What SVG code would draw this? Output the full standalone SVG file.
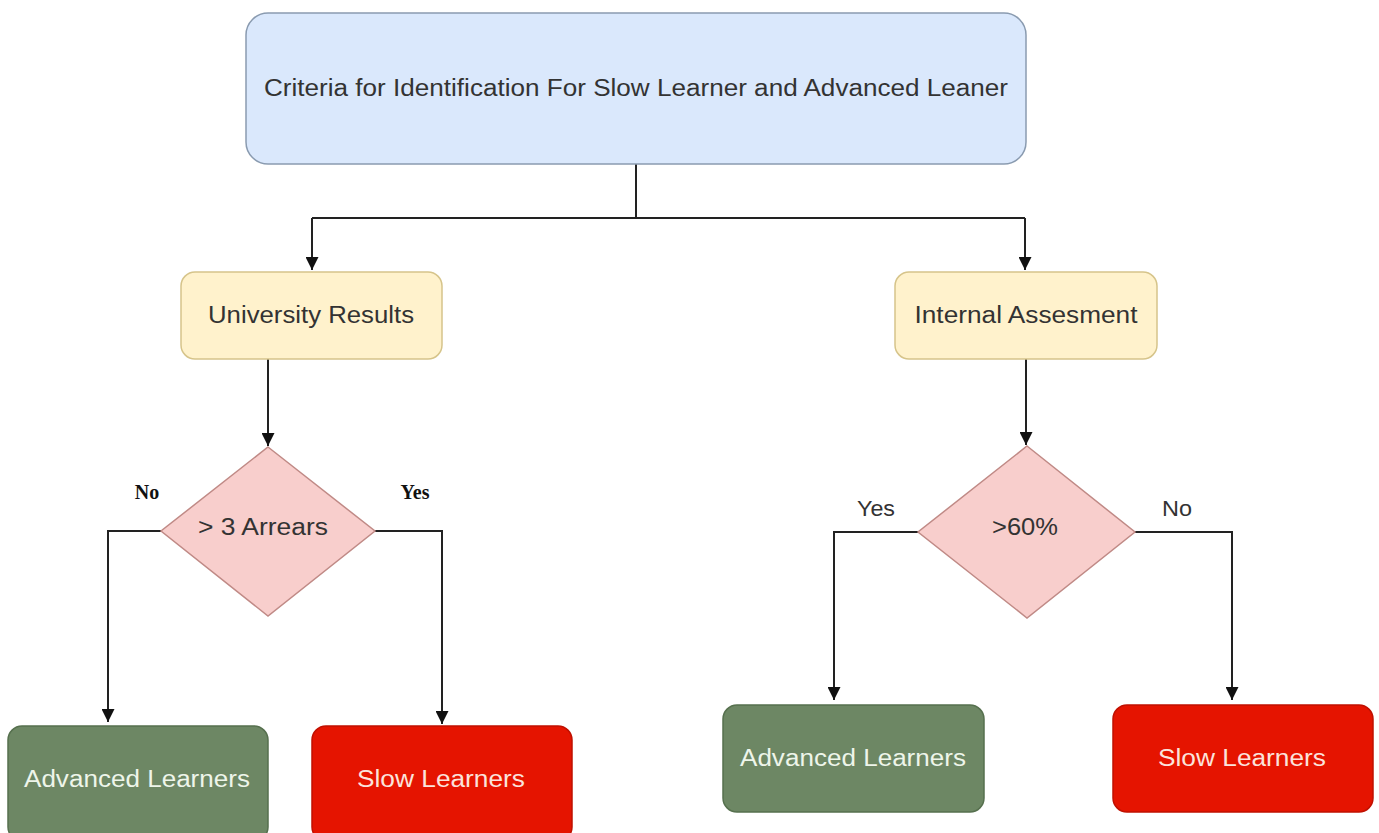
<svg xmlns="http://www.w3.org/2000/svg" width="1379" height="833" viewBox="0 0 1379 833">
<defs>
<marker id="ah" viewBox="0 0 10 10" refX="10" refY="5" markerWidth="6.5" markerHeight="6.5" orient="auto" markerUnits="strokeWidth">
<path d="M0,0 L10,5 L0,10 z" fill="#111"/>
</marker>
</defs>
<style>
.t{font-family:"Liberation Sans",Arial,sans-serif;text-anchor:middle;dominant-baseline:central}
.blue{fill:#dae8fc;stroke:#8a9bb0;stroke-width:1.5}
.yel{fill:#fff2cc;stroke:#d6c48a;stroke-width:1.5}
.dia{fill:#f8cecc;stroke:#c08a86;stroke-width:1.5}
.adv{fill:#6d8764;stroke:#56704e;stroke-width:1.5}
.slow{fill:#e51400;stroke:#c01000;stroke-width:1.5}
.dark{fill:#333}
.lbl{font-family:"Liberation Serif","Times New Roman",serif;font-weight:bold;font-size:20px;fill:#111;text-anchor:middle;dominant-baseline:central}
.c{fill:none;stroke:#222;stroke-width:2}
</style>
<rect width="1379" height="833" fill="#ffffff"/>
<g id="connectors">
<polyline class="c" points="636,164 636,218"/>
<polyline class="c" points="312,218 1025,218"/>
<polyline class="c" points="312,218 312,270" marker-end="url(#ah)"/>
<polyline class="c" points="1025,218 1025,270" marker-end="url(#ah)"/>
<polyline class="c" points="268,359 268,446" marker-end="url(#ah)"/>
<polyline class="c" points="1026,359 1026,445" marker-end="url(#ah)"/>
<polyline class="c" points="161,531 108,531 108,722" marker-end="url(#ah)"/>
<polyline class="c" points="375,531 442,531 442,724" marker-end="url(#ah)"/>
<polyline class="c" points="918,532 834,532 834,700" marker-end="url(#ah)"/>
<polyline class="c" points="1135,532 1232,532 1232,700" marker-end="url(#ah)"/>
</g>
<g id="node-criteria">
<rect class="blue" x="246" y="13" width="780" height="151" rx="22"/>
<text class="t dark" x="636" y="88" font-size="23" textLength="744" lengthAdjust="spacingAndGlyphs">Criteria for Identification For Slow Learner and Advanced Leaner</text>
</g>
<g id="node-university">
<rect class="yel" x="181" y="272" width="261" height="87" rx="14"/>
<text class="t dark" x="311" y="315" font-size="23" textLength="206" lengthAdjust="spacingAndGlyphs">University Results</text>
</g>
<g id="node-internal">
<rect class="yel" x="895" y="272" width="262" height="87" rx="14"/>
<text class="t dark" x="1026" y="315" font-size="23" textLength="223" lengthAdjust="spacingAndGlyphs">Internal Assesment</text>
</g>
<g id="node-arrears">
<polygon class="dia" points="268,447 375,531 268,616 161,531"/>
<text class="t dark" x="263" y="527" font-size="23" textLength="130" lengthAdjust="spacingAndGlyphs">&gt; 3 Arrears</text>
<text class="lbl" x="147" y="492">No</text>
<text class="lbl" x="415" y="492">Yes</text>
</g>
<g id="node-sixty">
<polygon class="dia" points="1027,446 1135,532 1027,618 918,532"/>
<text class="t dark" x="1025" y="527" font-size="23" textLength="66" lengthAdjust="spacingAndGlyphs">&gt;60%</text>
<text class="t dark" x="876" y="508" font-size="22" textLength="38" lengthAdjust="spacingAndGlyphs">Yes</text>
<text class="t dark" x="1177" y="508" font-size="22" textLength="30" lengthAdjust="spacingAndGlyphs">No</text>
</g>
<g id="node-adv-left">
<rect class="adv" x="8" y="726" width="260" height="115" rx="14"/>
<text class="t" x="137" y="779" font-size="23" fill="#eef5ea" textLength="226" lengthAdjust="spacingAndGlyphs">Advanced Learners</text>
</g>
<g id="node-slow-left">
<rect class="slow" x="312" y="726" width="260" height="115" rx="14"/>
<text class="t" x="441" y="779" font-size="23" fill="#fbe3dc" textLength="168" lengthAdjust="spacingAndGlyphs">Slow Learners</text>
</g>
<g id="node-adv-right">
<rect class="adv" x="723" y="705" width="261" height="107" rx="14"/>
<text class="t" x="853" y="758" font-size="23" fill="#eef5ea" textLength="226" lengthAdjust="spacingAndGlyphs">Advanced Learners</text>
</g>
<g id="node-slow-right">
<rect class="slow" x="1113" y="705" width="260" height="107" rx="14"/>
<text class="t" x="1242" y="758" font-size="23" fill="#fbe3dc" textLength="168" lengthAdjust="spacingAndGlyphs">Slow Learners</text>
</g>
</svg>
